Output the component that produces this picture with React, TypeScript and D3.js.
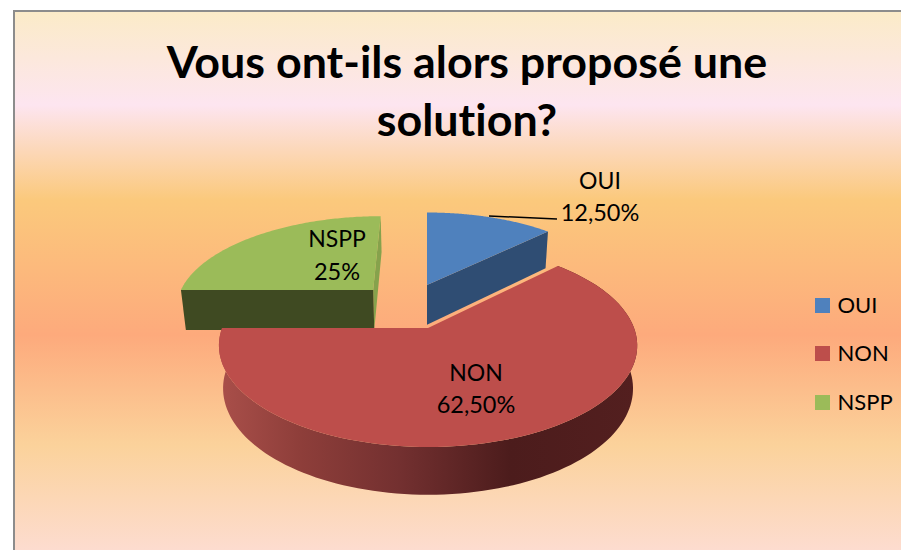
import React from "react";
import * as d3 from "d3";

const categories = ["OUI", "NON", "NSPP"];
const values = [12.5, 62.5, 25];
const valueLabels = ["12,50%", "62,50%", "25%"];
const topColors = ["#4f81bd", "#bd4e4b", "#9bbb59"];
const sideColors = ["#2f4d73", "#8c3c38", "#3f4a22"];
const titleLines = ["Vous ont-ils alors proposé une", "solution?"];
// explosion of each slice, in units of the pie radius (sideways, backwards)
const explodeU = [0, 0.005, -0.28];
const explodeV = [0.473, 0, 0.414];
const labelPos = [
  { x: 600, y1: 189, y2: 221 },
  { x: 476, y1: 381, y2: 413 },
  { x: 337, y1: 247, y2: 280 },
];
const bgStops: [number, string][] = [
  [12, "#fbebc8"],
  [105, "#fde5f0"],
  [200, "#fbc97c"],
  [335, "#fdaa7c"],
  [445, "#fbd29b"],
  [550, "#fddccf"],
];
const sideStops: [number, string][] = [
  [224, "#a84e49"],
  [300, "#8e3e3a"],
  [400, "#733030"],
  [510, "#4c1c1c"],
  [636, "#531f1f"],
];

const W = 901;
const H = 550;
const X0 = 427;
const Y0 = 328;
const RX = 206;
const RY = 98.4;
const K = 0.173;
const DEPTH = 42;
const FONT = "Lato, 'Open Sans', sans-serif";

type P = [number, number];
function project(u: number, v: number, low: boolean): P {
  const w = 1 + K * v;
  const x = X0 + (RX * u) / w;
  const y = Y0 - (RY * v) / w;
  if (!low) return [x, y];
  return [X0 + (x - X0) * 0.98, y + DEPTH / (1 + 0.12 * v)];
}
function rim(a: number, i: number, low: boolean): P {
  return project(Math.sin(a) + explodeU[i], Math.cos(a) + explodeV[i], low);
}
function apex(i: number, low: boolean): P {
  return project(explodeU[i], explodeV[i], low);
}
const line = d3.line<P>().x((d) => d[0]).y((d) => d[1]);
function arcPts(a0: number, a1: number, i: number, low: boolean): P[] {
  const n = 120;
  return d3.range(n + 1).map((k) => rim(a0 + ((a1 - a0) * k) / n, i, low));
}

export default function App() {
  const arcs = d3.pie<number>().sort(null)(values);
  const slice = (i: number) => arcs[i];
  const face = (i: number) => {
    const a = slice(i);
    return line([apex(i, false), ...arcPts(a.startAngle, a.endAngle, i, false)]) + "Z";
  };
  const cut = (i: number, ang: number) =>
    line([apex(i, false), rim(ang, i, false), rim(ang, i, true), apex(i, true)]) + "Z";
  const redSide =
    line([
      ...arcPts(slice(1).startAngle, slice(1).endAngle, 1, false),
      ...arcPts(slice(1).startAngle, slice(1).endAngle, 1, true).reverse(),
    ]) + "Z";
  const bgScale = d3.scaleLinear().domain([12, 550]).range([0, 100]);
  const sideScale = d3.scaleLinear().domain([224, 636]).range([0, 100]);

  return (
    <svg
      width={W}
      height={H}
      viewBox={`0 0 ${W} ${H}`}
      style={{ position: "absolute", left: 0, top: 0, display: "block", fontVariantLigatures: "none" }}
    >
      <defs>
        <linearGradient id="bg" x1="0" y1="0" x2="0" y2="1">
          {bgStops.map(([p, c]) => (
            <stop key={p} offset={`${bgScale(p)}%`} stopColor={c} />
          ))}
        </linearGradient>
        <linearGradient id="redSide" gradientUnits="userSpaceOnUse" x1={224} y1={0} x2={636} y2={0}>
          {sideStops.map(([p, c]) => (
            <stop key={p} offset={`${sideScale(p)}%`} stopColor={c} />
          ))}
        </linearGradient>
      </defs>
      <rect width={W} height={H} fill="#ffffff" />
      <rect x={13} y={10} width={W - 13} height={H - 10} fill="#8c8c8c" />
      <rect x={15} y={12} width={W - 15} height={H - 12} fill="url(#bg)" />

      {titleLines.map((t, i) => (
        <text
          key={t}
          x={467}
          y={78 + i * 58}
          textAnchor="middle"
          fontFamily={FONT}
          fontWeight={700}
          fontSize={44.8}
          fill="#000"
        >
          {t}
        </text>
      ))}

      {/* NSPP */}
      <path d={cut(2, slice(2).endAngle)} fill="#86a24c" />
      <path d={cut(2, slice(2).startAngle)} fill={sideColors[2]} />
      <path d={face(2)} fill={topColors[2]} />

      {/* OUI */}
      <path d={cut(0, slice(0).startAngle)} fill="#1f3350" />
      <path d={cut(0, slice(0).endAngle)} fill={sideColors[0]} />
      <path d={face(0)} fill={topColors[0]} />

      {/* NON */}
      <path d={redSide} fill="url(#redSide)" />
      <path d={face(1)} fill={topColors[1]} />

      {/* leader line */}
      <path d={d3.line()([[489, 216], [557, 219]]) ?? ""} fill="none" stroke="#000" strokeWidth={1.5} />

      {categories.map((c, i) => (
        <text key={c} textAnchor="middle" fontFamily={FONT} fill="#000">
          <tspan x={labelPos[i].x} y={labelPos[i].y1} fontSize={23}>{c}</tspan>
          <tspan x={labelPos[i].x} y={labelPos[i].y2} fontSize={23.5}>{valueLabels[i]}</tspan>
        </text>
      ))}

      {categories.map((c, i) => {
        const y = [298, 346, 395][i];
        return (
          <g key={c}>
            <rect x={815} y={y} width={15} height={15} fill={topColors[i]} />
            <text x={837.5} y={y + 15} fontFamily={FONT} fontSize={22} fill="#000">
              {c}
            </text>
          </g>
        );
      })}
    </svg>
  );
}
